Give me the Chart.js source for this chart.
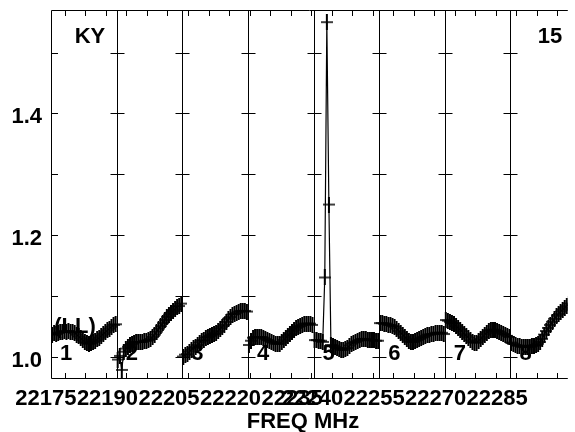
<!DOCTYPE html>
<html>
<head>
<meta charset="utf-8">
<script src="https://cdn.jsdelivr.net/npm/chart.js@4"></script>
<style>
  html, body { margin: 0; padding: 0; background: #fff; overflow: hidden; }
  canvas { display: block; }
</style>
</head>
<body>
<canvas id="possm" width="575" height="432"></canvas>
<script>
'use strict';

// frequency layout of the IFs (MHz)
let firstFreq = 22171.6;
let ifWidth = 16;
let chanWidth = 0.5;
let lastVisibleFreq = 22297.6;

// tick labels
let yTicks = [1.0, 1.1, 1.2, 1.3, 1.4, 1.5];
let yLabels = [1.0, 1.2, 1.4];
let xLabels = [22175, 22190, 22205, 22220, 22235, 22240, 22255, 22270, 22285];
let ifNames = ['1', '2', '3', '4', '5', '6', '7', '8'];

// amplitude per channel, one array per IF
let if1 = [1.036, 1.038, 1.037, 1.039, 1.040, 1.041, 1.042, 1.041, 1.042, 1.041, 1.040, 1.039, 1.036, 1.033, 1.030, 1.027,
  1.024, 1.022, 1.021, 1.022, 1.024, 1.026, 1.028, 1.031, 1.034, 1.037, 1.040, 1.043, 1.046, 1.049, 1.052, 1.053];
let if2 = [0.995, 1.001, 0.978, 1.008, 1.013, 1.016, 1.019, 1.021, 1.023, 1.024, 1.024, 1.024, 1.024, 1.026, 1.026, 1.027,
  1.029, 1.032, 1.036, 1.041, 1.046, 1.050, 1.055, 1.060, 1.065, 1.069, 1.072, 1.075, 1.078, 1.082, 1.083, 1.087];
let if3 = [1.000, 1.003, 1.004, 1.008, 1.011, 1.014, 1.016, 1.019, 1.023, 1.026, 1.027, 1.031, 1.032, 1.034, 1.036, 1.037,
  1.039, 1.042, 1.046, 1.049, 1.052, 1.057, 1.062, 1.065, 1.069, 1.070, 1.072, 1.074, 1.075, 1.075, 1.075, 1.074];
let if4 = [1.019, 1.026, 1.031, 1.032, 1.032, 1.032, 1.032, 1.031, 1.029, 1.027, 1.026, 1.024, 1.023, 1.021, 1.021, 1.021,
  1.024, 1.027, 1.031, 1.034, 1.037, 1.041, 1.044, 1.047, 1.049, 1.050, 1.052, 1.054, 1.054, 1.054, 1.054, 1.052];
let if5 = [1.027, 1.027, 1.026, 1.026, 1.024, 1.130, 1.550, 1.250, 1.019, 1.018, 1.016, 1.014, 1.013, 1.011, 1.011, 1.013,
  1.014, 1.018, 1.021, 1.023, 1.024, 1.026, 1.027, 1.029, 1.029, 1.029, 1.027, 1.027, 1.027, 1.027, 1.026, 1.026];
let if6 = [1.055, 1.055, 1.054, 1.054, 1.052, 1.052, 1.050, 1.049, 1.046, 1.042, 1.039, 1.036, 1.032, 1.029, 1.026, 1.024,
  1.024, 1.026, 1.027, 1.029, 1.031, 1.032, 1.034, 1.036, 1.036, 1.037, 1.037, 1.039, 1.039, 1.039, 1.039, 1.037];
let if7 = [1.060, 1.059, 1.057, 1.055, 1.054, 1.050, 1.047, 1.044, 1.041, 1.037, 1.034, 1.031, 1.027, 1.024, 1.023, 1.023,
  1.026, 1.029, 1.032, 1.036, 1.039, 1.042, 1.044, 1.044, 1.044, 1.042, 1.041, 1.039, 1.037, 1.036, 1.034, 1.032];
let if8 = [1.023, 1.021, 1.019, 1.018, 1.018, 1.016, 1.016, 1.016, 1.016, 1.016, 1.018, 1.018, 1.019, 1.021, 1.024, 1.029,
  1.036, 1.042, 1.047, 1.052, 1.057, 1.062, 1.067, 1.070, 1.074, 1.077, 1.080, 1.083, 1.087];

let allIFs = [if1, if2, if3, if4, if5, if6, if7, if8];

let boldFont = 'bold 22px "Liberation Sans", Arial, sans-serif';

// plus marker, a bit taller than wide
let plusMark = document.createElement('canvas');
plusMark.width = 12;
plusMark.height = 16;
let pctx = plusMark.getContext('2d');
pctx.fillStyle = '#000';
pctx.fillRect(5, 0, 2, 16);
pctx.fillRect(0, 7.25, 12, 1.5);

function ifStart(k) {
  return firstFreq + k * ifWidth;
}

function makeDataset(values, k) {
  let points = [];
  for (let i = 0; i < values.length; i++) {
    points.push({ x: ifStart(k) + (i + 0.5) * chanWidth, y: values[i] });
  }
  return {
    data: points,
    borderColor: '#000',
    borderWidth: 1.2,
    pointStyle: plusMark,
    pointRadius: 6,
    tension: 0
  };
}

function text(ctx, str, x, y, align) {
  ctx.textAlign = align;
  ctx.fillText(str, x, y);
}

// frame, IF separators, ticks and all labels
let framePlugin = {
  id: 'frame',
  afterDatasetsDraw(chart) {
    let ctx = chart.ctx;
    let xs = chart.scales.x;
    let ys = chart.scales.y;
    let area = chart.chartArea;
    ctx.save();
    ctx.strokeStyle = '#000';
    ctx.lineWidth = 1;
    ctx.beginPath();
    ctx.moveTo(area.right, area.top + 0.5);
    ctx.lineTo(area.left + 0.5, area.top + 0.5);
    ctx.lineTo(area.left + 0.5, area.bottom - 0.5);
    ctx.lineTo(area.right, area.bottom - 0.5);

    // separators with crossing y ticks
    for (let k = 1; k < allIFs.length; k++) {
      let sx = Math.round(xs.getPixelForValue(ifStart(k))) + 0.5;
      ctx.moveTo(sx, area.top);
      ctx.lineTo(sx, area.bottom);
      for (let t of yTicks) {
        let ty = Math.round(ys.getPixelForValue(t)) + 0.5;
        ctx.moveTo(sx - 7, ty);
        ctx.lineTo(sx + 7, ty);
      }
    }
    for (let t of yTicks) {
      let ty = Math.round(ys.getPixelForValue(t)) + 0.5;
      ctx.moveTo(area.left, ty);
      ctx.lineTo(area.left + 7, ty);
    }

    // x ticks every 5 MHz
    for (let f = Math.ceil(firstFreq / 5) * 5; f <= lastVisibleFreq; f += 5) {
      let tx = Math.round(xs.getPixelForValue(f)) + 0.5;
      ctx.moveTo(tx, area.top);
      ctx.lineTo(tx, area.top + 6);
      ctx.moveTo(tx, area.bottom);
      ctx.lineTo(tx, area.bottom - 6);
    }
    ctx.stroke();

    ctx.fillStyle = '#000';
    ctx.font = boldFont;
    ctx.textBaseline = 'alphabetic';
    for (let v of yLabels) {
      text(ctx, v.toFixed(1), 42, ys.getPixelForValue(v) + 10, 'right');
    }
    for (let f of xLabels) {
      text(ctx, String(f), xs.getPixelForValue(f) - 19, 405, 'center');
    }
    for (let k = 0; k < ifNames.length; k++) {
      text(ctx, ifNames[k], xs.getPixelForValue(ifStart(k)) + 9, 360, 'left');
    }
    text(ctx, 'KY', 90, 43, 'center');
    text(ctx, '15', 550, 43, 'center');
    text(ctx, '(LL)', 75, 333, 'center');
    text(ctx, 'FREQ MHz', 303, 428, 'center');
    ctx.restore();
  }
};

let ctx = document.getElementById('possm').getContext('2d');
let possmChart = new Chart(ctx, {
  type: 'line',
  data: { datasets: allIFs.map(makeDataset) },
  options: {
    responsive: false,
    animation: false,
    layout: { padding: { left: 51, top: 10, right: 0, bottom: 53 } },
    plugins: { legend: { display: false }, tooltip: { enabled: false } },
    scales: {
      x: { type: 'linear', display: false, min: firstFreq, max: lastVisibleFreq },
      y: { type: 'linear', display: false, min: 0.963, max: 1.570 }
    }
  },
  plugins: [framePlugin]
});
</script>
</body>
</html>
